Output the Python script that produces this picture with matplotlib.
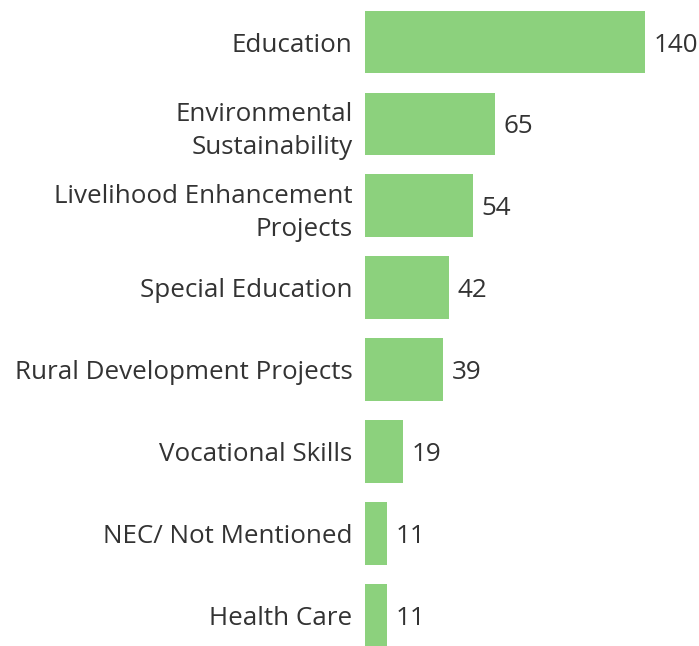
import matplotlib
matplotlib.use("Agg")
import matplotlib.pyplot as plt

categories = [
    "Education",
    "Environmental\nSustainability",
    "Livelihood Enhancement\nProjects",
    "Special Education",
    "Rural Development Projects",
    "Vocational Skills",
    "NEC/ Not Mentioned",
    "Health Care",
]
counts = [140, 65, 54, 42, 39, 19, 11, 11]

bar_color = "#8CD17D"
text_color = "#333333"
font = "Open Sans"
fsize = 18.7

fig = plt.figure(figsize=(6.99, 6.46), dpi=100)
ax = fig.add_axes([365 / 699, 0, 1 - 365 / 699, 1])

ypos = list(range(len(categories)))
ax.barh(ypos, counts, height=0.765, color=bar_color)

for y, v in zip(ypos, counts):
    ax.annotate(str(v), xy=(v, y), xytext=(6, 0), textcoords="offset points",
                ha="left", va="center_baseline", fontsize=fsize, family=font,
                color=text_color)

ax.set_yticks(ypos)
ax.set_yticklabels(categories, fontsize=fsize, family=font, color=text_color,
                   linespacing=1.45, ha="right")
ax.tick_params(axis="y", length=0, pad=9)
ax.set_xticks([])

ax.set_xlim(0, 167)
ax.set_ylim(7.375, -0.513)
for s in ax.spines.values():
    s.set_visible(False)

fig.savefig("out.png", dpi=100)
